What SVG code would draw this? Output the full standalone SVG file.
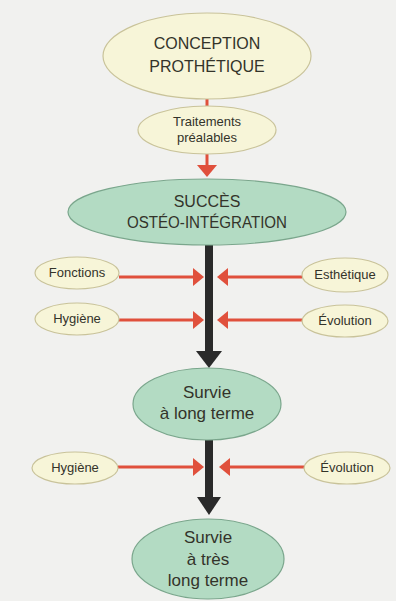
<svg xmlns="http://www.w3.org/2000/svg" width="396" height="601" viewBox="0 0 396 601">
<style>
  text { font-family: "Liberation Sans", Arial, sans-serif; fill: #33332a; text-anchor: middle; }
  .y { fill: #f7f5d8; stroke: #c9c39a; stroke-width: 1.2; }
  .g { fill: #b3dbc3; stroke: #7aa68c; stroke-width: 1.2; }
  .red { stroke: #e0503c; stroke-width: 3; fill: none; }
  .redh { fill: #e0503c; }
  .blk { fill: #2a2a2a; }
  .big { font-size: 16px; }
  .med { font-size: 17px; }
  .sm { font-size: 13px; }
</style>
<rect x="0" y="0" width="396" height="601" fill="#f1f1ef"/>
<g id="connectors">
  <line class="red" x1="207" y1="99" x2="207" y2="107"/>
  <line class="red" x1="207" y1="154" x2="207" y2="166"/>
  <polygon class="redh" points="197,165 217,165 207,177"/>
  <rect class="blk" x="205" y="245" width="8" height="107"/>
  <polygon class="blk" points="196,351 222,351 209,368"/>
  <rect class="blk" x="205" y="440" width="8" height="58"/>
  <polygon class="blk" points="197,497 221,497 209,515"/>
  <line class="red" x1="119" y1="277" x2="194" y2="277"/>
  <polygon class="redh" points="193,268 204,277 193,286"/>
  <line class="red" x1="302" y1="277" x2="227" y2="277"/>
  <polygon class="redh" points="228,268 217,277 228,286"/>
  <line class="red" x1="119" y1="320" x2="194" y2="320"/>
  <polygon class="redh" points="193,311 204,320 193,329"/>
  <line class="red" x1="303" y1="320" x2="227" y2="320"/>
  <polygon class="redh" points="228,311 217,320 228,329"/>
  <line class="red" x1="118" y1="467" x2="194" y2="467"/>
  <polygon class="redh" points="193,458 204,467 193,476"/>
  <line class="red" x1="305" y1="467" x2="229" y2="467"/>
  <polygon class="redh" points="230,458 219,467 230,476"/>
</g>
<g id="conception">
  <ellipse class="y" cx="207" cy="56" rx="104" ry="43"/>
  <text class="big" x="207" y="49">CONCEPTION</text>
  <text class="big" x="207" y="72">PROTHÉTIQUE</text>
</g>
<g id="traitements">
  <ellipse class="y" cx="207" cy="130" rx="69" ry="24"/>
  <text class="sm" x="207" y="126">Traitements</text>
  <text class="sm" x="207" y="142">préalables</text>
</g>
<g id="succes">
  <ellipse class="g" cx="207" cy="212" rx="139" ry="33"/>
  <text class="big" x="207" y="207">SUCCÈS</text>
  <text class="big" x="207" y="228" textLength="160" lengthAdjust="spacingAndGlyphs">OSTÉO-INTÉGRATION</text>
</g>
<g id="fonctions">
  <ellipse class="y" cx="77" cy="273" rx="42" ry="16"/>
  <text class="sm" x="77" y="277">Fonctions</text>
</g>
<g id="esthetique">
  <ellipse class="y" cx="345" cy="275" rx="43" ry="17"/>
  <text class="sm" x="345" y="279">Esthétique</text>
</g>
<g id="hygiene1">
  <ellipse class="y" cx="77" cy="319" rx="42" ry="16"/>
  <text class="sm" x="77" y="323">Hygiène</text>
</g>
<g id="evolution1">
  <ellipse class="y" cx="345" cy="321" rx="43" ry="16"/>
  <text class="sm" x="345" y="325">Évolution</text>
</g>
<g id="survie-long">
  <ellipse class="g" cx="207" cy="404" rx="74" ry="36"/>
  <text class="med" x="207" y="398">Survie</text>
  <text class="med" x="207" y="419">à long terme</text>
</g>
<g id="hygiene2">
  <ellipse class="y" cx="75" cy="468" rx="43" ry="16"/>
  <text class="sm" x="75" y="472">Hygiène</text>
</g>
<g id="evolution2">
  <ellipse class="y" cx="347" cy="468" rx="43" ry="16"/>
  <text class="sm" x="347" y="472">Évolution</text>
</g>
<g id="survie-tres-long">
  <ellipse class="g" cx="208" cy="559" rx="76" ry="40"/>
  <text class="med" x="208" y="543">Survie</text>
  <text class="med" x="208" y="565">à très</text>
  <text class="med" x="208" y="586">long terme</text>
</g>
</svg>
